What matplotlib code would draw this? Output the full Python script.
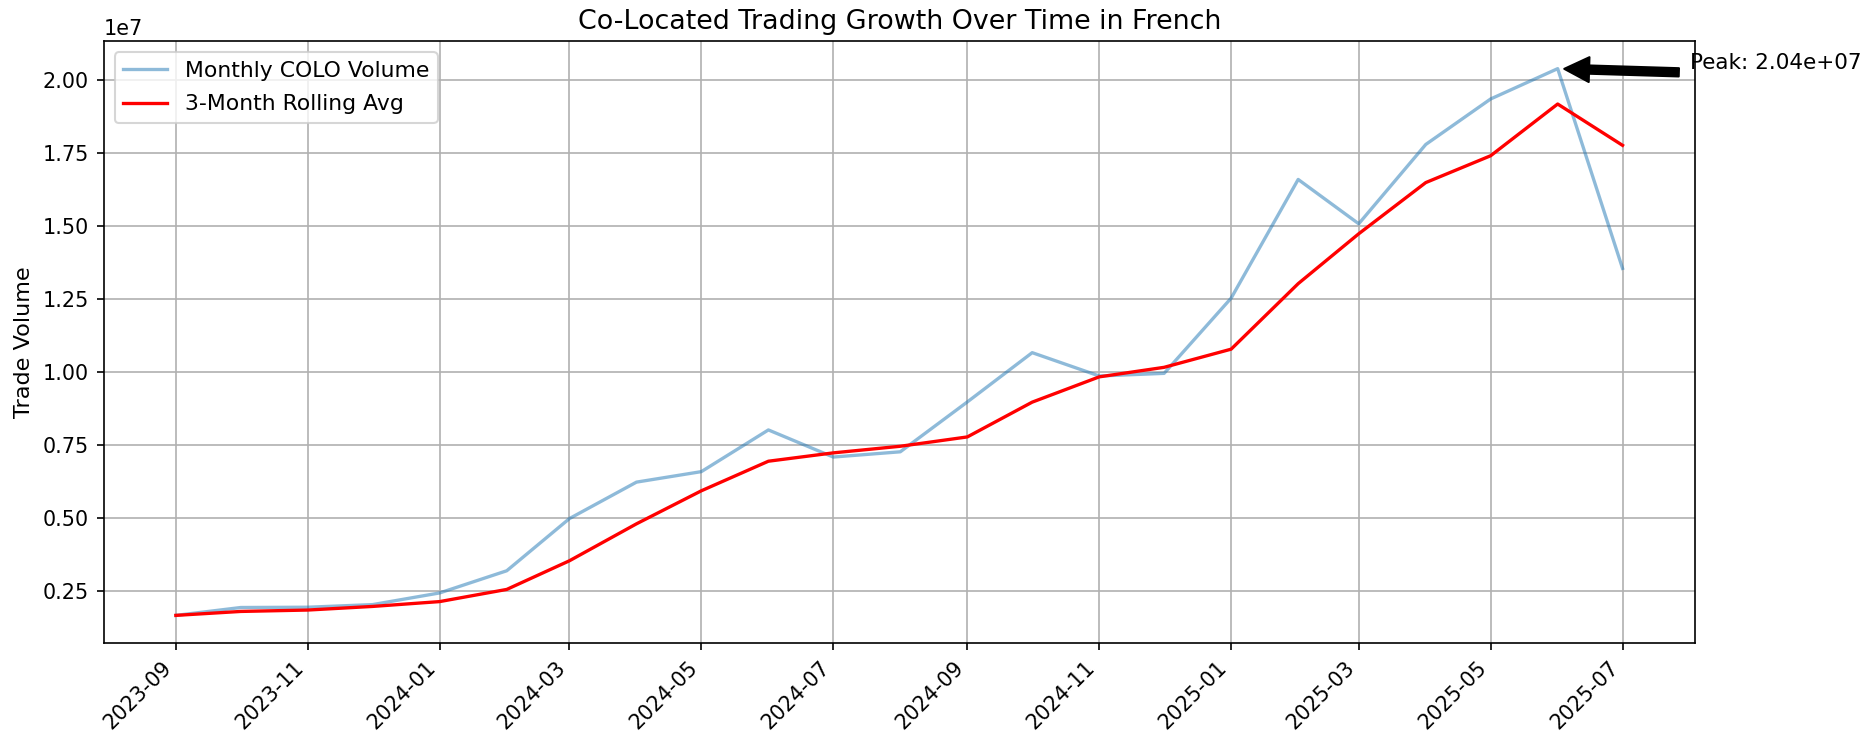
import matplotlib
matplotlib.use("Agg")
import matplotlib.pyplot as plt
import matplotlib.dates as mdates
import pandas as pd

months = pd.date_range("2023-09-01", "2025-07-01", freq="MS")

monthly_volume = [1.65e6, 1.92e6, 1.93e6, 2.02e6, 2.42e6, 3.18e6, 4.97e6, 6.22e6,
                  6.58e6, 8.01e6, 7.08e6, 7.26e6, 8.97e6, 1.066e7, 9.86e6, 9.95e6,
                  1.253e7, 1.660e7, 1.508e7, 1.780e7, 1.936e7, 2.040e7, 1.355e7]

rolling_avg = [1.65e6, 1.785e6, 1.833e6, 1.957e6, 2.123e6, 2.540e6, 3.523e6, 4.790e6,
               5.923e6, 6.937e6, 7.223e6, 7.450e6, 7.770e6, 8.963e6, 9.830e6, 1.0157e7,
               1.0780e7, 1.3027e7, 1.4737e7, 1.6493e7, 1.7413e7, 1.9187e7, 1.7770e7]

peak_idx = max(range(len(monthly_volume)), key=lambda i: monthly_volume[i])
peak_date = months[peak_idx]
peak_val = monthly_volume[peak_idx]

plt.rcParams["font.size"] = 10

fig = plt.figure(figsize=(12.5, 4.98), dpi=149)
ax = fig.add_axes([0.0556, 0.1338, 0.8544, 0.8105])

ax.plot(months, monthly_volume, color="#1f77b4", alpha=0.5, linewidth=1.6,
        label="Monthly COLO Volume")
ax.plot(months, rolling_avg, color="red", linewidth=1.6, label="3-Month Rolling Avg")

ax.annotate(f"Peak: {peak_val:.2e}", xy=(peak_date, peak_val),
            xytext=(peak_date + pd.Timedelta(days=61), peak_val),
            fontsize=10.4,
            arrowprops=dict(facecolor="black", shrink=0.05))

ax.set_title("Co-Located Trading Growth Over Time in French", fontsize=13)
ax.set_ylabel("Trade Volume", fontsize=10.8)
ax.grid(True)
ax.legend(loc="upper left", fontsize=10.6, labelspacing=0.6)

ax.xaxis.set_major_locator(mdates.MonthLocator(bymonth=[1, 3, 5, 7, 9, 11]))
ax.xaxis.set_major_formatter(mdates.DateFormatter("%Y-%m"))
plt.setp(ax.get_xticklabels(), rotation=45, ha="right")
ax.tick_params(labelsize=10)

fig.savefig("out.png", dpi=149)
